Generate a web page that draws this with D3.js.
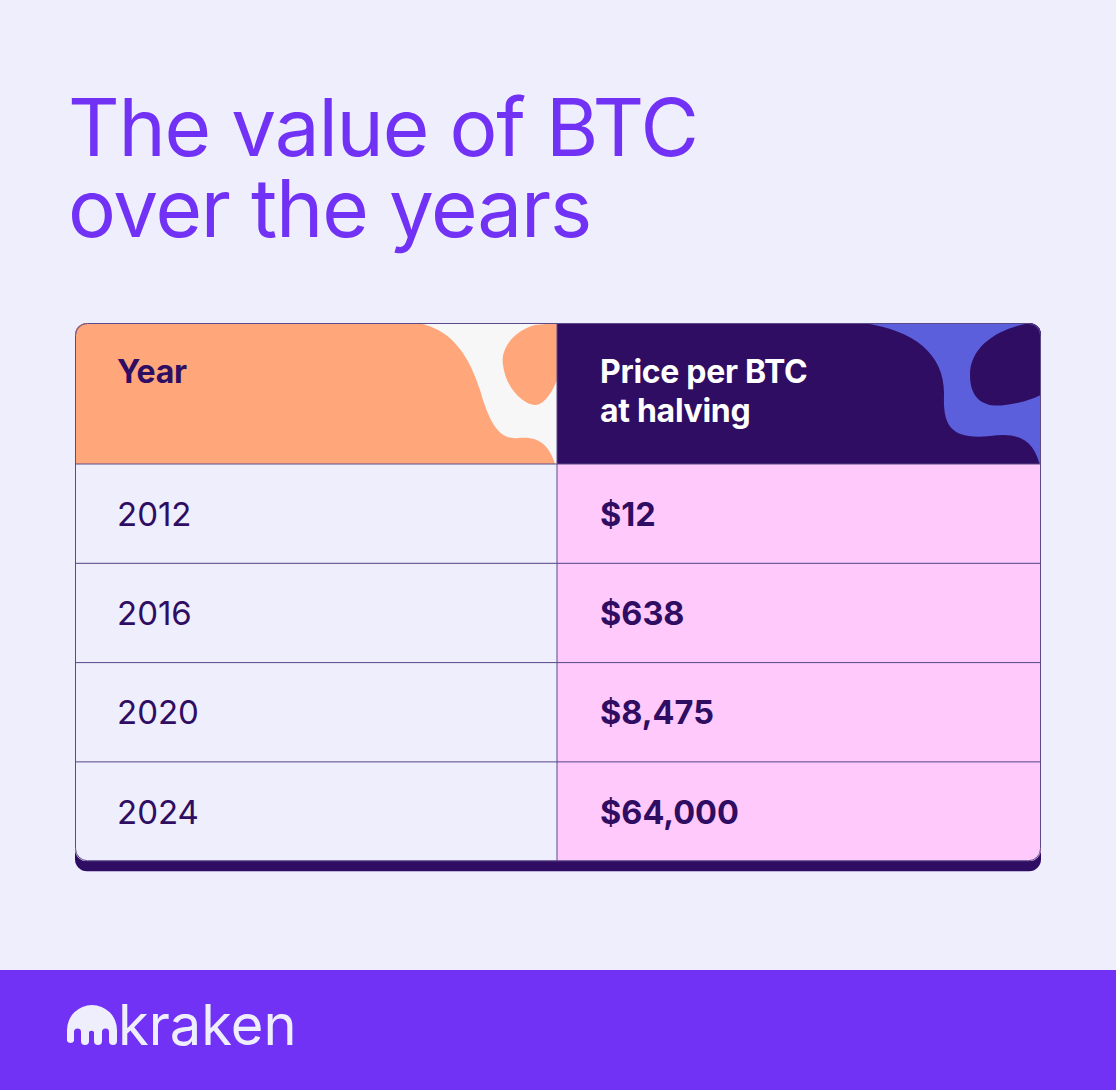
<!DOCTYPE html>
<html><head><meta charset="utf-8">
<script src="https://cdn.jsdelivr.net/npm/d3@7"></script>
<style>body{margin:0;background:#efeefc;}text{font-family:Inter,"DejaVu Sans",sans-serif;}</style>
</head><body>
<script>
const titleLines = ["The value of BTC", "over the years"];
const headers = ["Year", ["Price per BTC", "at halving"]];
const years = ["2012", "2016", "2020", "2024"];
const prices = ["$12", "$638", "$8,475", "$64,000"];

const W = 1116, H = 1090;
const svg = d3.select("body").append("svg").attr("width", W).attr("height", H);
svg.append("rect").attr("width", W).attr("height", H).attr("fill", "#efeefc");

// title
svg.selectAll(".title").data(titleLines).join("text")
  .attr("x", 68).attr("y", (d, i) => 156 + i * 81)
  .attr("font-size", 80).attr("fill", "#7132f5").attr("letter-spacing", -1.2).text(d => d);

const L = 75, R = 1041, mid = 557, T = 323, headB = 464, rowH = 99.3;
const y = d3.scaleBand().domain(years).range([headB, headB + rowH * years.length]);
const bot = headB + rowH * years.length;

// shadow + frame
svg.append("rect").attr("x", L).attr("y", T).attr("width", R - L).attr("height", bot - T + 10)
  .attr("rx", 12).attr("fill", "#2f0d63");
const defs = svg.append("defs");
defs.append("clipPath").attr("id", "card").append("rect").attr("x", L).attr("y", T)
  .attr("width", R - L).attr("height", bot - T).attr("rx", 12);
const g = svg.append("g").attr("clip-path", "url(#card)");

// header cells
g.append("rect").attr("x", L).attr("y", T).attr("width", mid - L).attr("height", headB - T).attr("fill", "#ffa67a");
g.append("rect").attr("x", mid).attr("y", T).attr("width", R - mid).attr("height", headB - T).attr("fill", "#2f0d63");
// decorative blobs
g.append("path").attr("fill", "#f8f7f7")
  .attr("d", `M418,323 C455,330 470,360 480,390 C490,425 500,440 518,438 C540,436 550,445 557,470 L557,323 Z`);
g.append("path").attr("fill", "#ffa67a")
  .attr("d", `M557,323 L535,325 C515,330 500,348 503,365 C506,390 525,405 535,405 C548,405 557,380 557,380 Z`);
g.append("path").attr("fill", "#5b5fdc")
  .attr("d", `M863,323 C915,330 945,355 944,395 C943,425 950,440 990,436 C1020,432 1035,440 1041,470 L1041,323 Z`);
g.append("path").attr("fill", "#2f0d63")
  .attr("d", `M1030,323 C1000,328 970,345 970,375 C970,400 985,408 1005,405 C1025,403 1041,395 1041,395 L1041,323 Z`);

// body cells
g.selectAll(".yc").data(years).join("rect").attr("x", L).attr("y", d => y(d))
  .attr("width", mid - L).attr("height", y.bandwidth()).attr("fill", "#efeefc");
g.selectAll(".pc").data(years).join("rect").attr("x", mid).attr("y", d => y(d))
  .attr("width", R - mid).attr("height", y.bandwidth()).attr("fill", "#ffcafb");
// grid lines
g.selectAll(".hl").data(years).join("line").attr("x1", L).attr("x2", R)
  .attr("y1", d => y(d)).attr("y2", d => y(d)).attr("stroke", "#5b4a8a").attr("stroke-width", 1);
g.append("line").attr("x1", mid).attr("x2", mid).attr("y1", T).attr("y2", bot).attr("stroke", "#5b4a8a");
svg.append("rect").attr("x", L + 0.5).attr("y", T + 0.5).attr("width", R - L - 1).attr("height", bot - T - 1)
  .attr("rx", 12).attr("fill", "none").attr("stroke", "#5b4a8a");

// header text
svg.append("text").attr("x", 117).attr("y", 383).attr("font-size", 32).attr("font-weight", 700)
  .attr("fill", "#2f0d63").attr("letter-spacing", -0.3).text(headers[0]);
svg.selectAll(".ph").data(headers[1]).join("text").attr("x", 600).attr("y", (d, i) => 383 + i * 39)
  .attr("font-size", 32).attr("font-weight", 700).attr("fill", "#ffffff").attr("letter-spacing", -0.3).text(d => d);

// body text
svg.selectAll(".yt").data(years).join("text").attr("x", 117).attr("y", d => y(d) + y.bandwidth() / 2 + 12)
  .attr("font-size", 33).attr("fill", "#2f0d63").text(d => d);
svg.selectAll(".pt").data(prices).join("text").attr("x", 600).attr("y", (d, i) => y(years[i]) + y.bandwidth() / 2 + 12)
  .attr("font-size", 32.5).attr("font-weight", 700).attr("fill", "#2f0d63").text(d => d);

// footer
svg.append("rect").attr("x", 0).attr("y", 970).attr("width", W).attr("height", H - 970).attr("fill", "#7132f5");
const logo = svg.append("g").attr("fill", "#efeefc");
logo.append("path").attr("d", "M67,1030 A25,25 0 0 1 117,1030 L117,1041 A4,4 0 0 1 109,1041 L109,1032 A3.5,3.5 0 0 0 102,1032 L102,1041 A4,4 0 0 1 94,1041 L94,1032 A3,3 0 0 0 89,1032 L89,1041 A4,4 0 0 1 81,1041 L81,1032 A3.5,3.5 0 0 0 74,1032 L74,1041 A4,4 0 0 1 67,1041 Z");
logo.append("text").attr("x", 118).attr("y", 1045).attr("font-size", 56).text("kraken");
</script>
</body></html>
